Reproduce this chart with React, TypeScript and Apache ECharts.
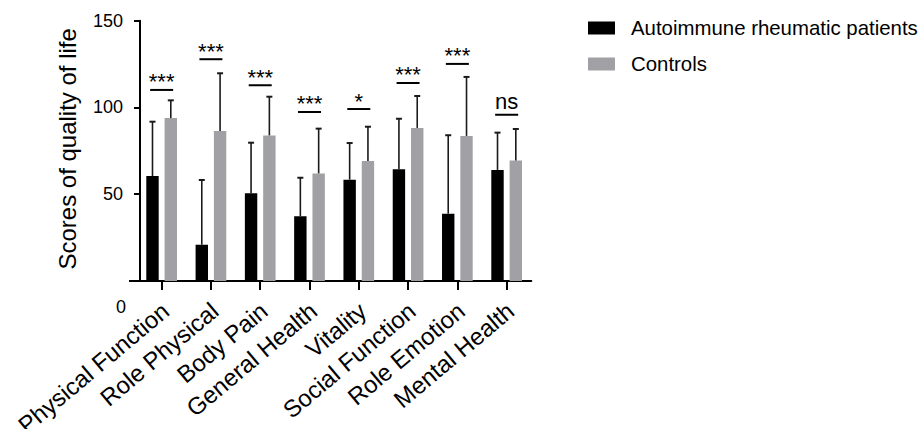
import React, { useEffect, useRef } from "react";
import * as echarts from "echarts";

const categories = [
  "Physical Function",
  "Role Physical",
  "Body Pain",
  "General Health",
  "Vitality",
  "Social Function",
  "Role Emotion",
  "Mental Health",
];
const seriesNames = ["Autoimmune rheumatic patients", "Controls"];
const patientMeans = [60.5, 20.9, 50.5, 37.3, 58.4, 64.4, 38.8, 64.0];
const patientSD = [31.3, 37.3, 29.2, 22.2, 21.1, 29.1, 45.2, 21.5];
const controlMeans = [93.9, 86.4, 83.9, 62.0, 69.2, 88.2, 83.6, 69.5];
const controlSD = [10.2, 33.3, 22.3, 25.8, 19.7, 18.4, 34.0, 18.1];
const sigLabels = ["***", "***", "***", "***", "*", "***", "***", "ns"];
const sigHeights = [110.1, 127.8, 112.8, 97.4, 99.1, 114.1, 125.1, 95.8];
const yMin = 0;
const yMax = 150;
const yInterval = 50;

const FONT = '"Liberation Sans", Arial, Helvetica, sans-serif';
const BAR_WIDTH = 12.4;
const BAR_GAP_PX = 5.9;
const BAR_OFFSET = (BAR_WIDTH + BAR_GAP_PX) / 2;

function errorSeries(means: number[], sds: number[], offset: number) {
  return {
    type: "custom",
    silent: true,
    z: 5,
    encode: { x: 0, y: [1, 2] },
    data: means.map((m, i) => [i, m, m + sds[i]]),
    renderItem: (params: any, api: any) => {
      const i = api.value(0);
      const lo = api.coord([i, api.value(1)]);
      const hi = api.coord([i, api.value(2)]);
      const x = lo[0] + offset;
      const st = { stroke: "#1a1a1a", lineWidth: 1.6 };
      return {
        type: "group",
        children: [
          { type: "line", shape: { x1: x, y1: lo[1], x2: x, y2: hi[1] }, style: st },
          { type: "line", shape: { x1: x - 3, y1: hi[1], x2: x + 3, y2: hi[1] }, style: { ...st, lineWidth: 2 } },
        ],
      };
    },
  };
}

export default function App() {
  const ref = useRef<HTMLDivElement>(null);
  useEffect(() => {
    if (!ref.current) return;
    const chart = echarts.init(ref.current, undefined, { renderer: "svg" });
    chart.setOption({
      animation: false,
      textStyle: { fontFamily: FONT },
      grid: {
        left: 137,
        right: 389.7,
        top: 20.7,
        bottom: 148,
        containLabel: false,
        outerBoundsMode: "none",
      },
      legend: {
        orient: "vertical",
        left: 588,
        top: 18,
        padding: 0,
        itemWidth: 27,
        itemHeight: 13,
        itemGap: 16,
        icon: "rect",
        data: seriesNames,
        textStyle: { fontSize: 20.4, color: "#000", fontFamily: FONT, padding: [0, 0, 0, 11] },
      },
      xAxis: {
        type: "category",
        data: categories,
        axisLine: { show: true, lineStyle: { color: "#000", width: 2 } },
        axisTick: { show: true, alignWithLabel: true, length: 9, lineStyle: { color: "#000", width: 2 } },
        axisLabel: {
          rotate: 40,
          interval: 0,
          fontSize: 24,
          color: "#000",
          margin: 14,
          padding: [0, 5, 0, 0],
          verticalAlign: "top",
          fontFamily: FONT,
        },
        splitLine: { show: false },
      },
      yAxis: {
        type: "value",
        min: yMin,
        max: yMax,
        interval: yInterval,
        offset: -3,
        name: "Scores of quality of life",
        nameLocation: "middle",
        nameRotate: 90,
        nameGap: 61,
        nameTextStyle: { fontSize: 24, color: "#000", fontFamily: FONT, padding: [0, 0, 0, 4] },
        axisLine: { show: true, lineStyle: { color: "#000", width: 2 } },
        axisTick: { show: true, length: 6, lineStyle: { color: "#000", width: 2 } },
        axisLabel: {
          fontSize: 18,
          color: "#000",
          margin: 17,
          fontFamily: FONT,
          formatter: (v: number) => (v === 0 ? "" : String(v)),
        },
        splitLine: { show: false },
      },
      series: [
        {
          name: seriesNames[0],
          type: "bar",
          data: patientMeans,
          barWidth: BAR_WIDTH,
          barGap: `${(BAR_GAP_PX / BAR_WIDTH) * 100}%`,
          itemStyle: { color: "#000000" },
        },
        {
          name: seriesNames[1],
          type: "bar",
          data: controlMeans,
          barWidth: BAR_WIDTH,
          itemStyle: { color: "#a1a1a5" },
        },
        errorSeries(patientMeans, patientSD, -BAR_OFFSET),
        errorSeries(controlMeans, controlSD, BAR_OFFSET),
        {
          type: "custom",
          silent: true,
          z: 6,
          encode: { x: 0, y: 1 },
          data: sigHeights.map((h, i) => [i, h]),
          renderItem: (params: any, api: any) => {
            const i = api.value(0);
            const p = api.coord([i, api.value(1)]);
            const label = sigLabels[params.dataIndex];
            const stars = /^\*+$/.test(label);
            const ty = p[1] - (stars ? 8 : 13);
            return {
              type: "group",
              children: [
                {
                  type: "line",
                  shape: { x1: p[0] - 11.5, y1: p[1], x2: p[0] + 11.5, y2: p[1] },
                  style: { stroke: "#000", lineWidth: 2 },
                },
                {
                  type: "text",
                  x: p[0],
                  y: ty,
                  style: {
                    text: label,
                    font: `22px ${FONT}`,
                    fill: "#000",
                    align: "center",
                    verticalAlign: "middle",
                    textAlign: "center",
                    textVerticalAlign: "middle",
                  },
                },
              ],
            };
          },
        },
      ],
      graphic: [
        {
          type: "line",
          shape: { x1: 129, y1: 281, x2: 138, y2: 281 },
          style: { stroke: "#000", lineWidth: 2 },
        },
        {
          type: "text",
          x: 121,
          y: 306.5,
          style: {
            text: "0",
            font: `18px ${FONT}`,
            fill: "#000",
            align: "center",
            verticalAlign: "middle",
            textAlign: "center",
            textVerticalAlign: "middle",
          },
        },
      ],
    });
    return () => chart.dispose();
  }, []);
  return (
    <div
      ref={ref}
      style={{ position: "absolute", left: 0, top: 0, width: 921, height: 429, background: "#fff" }}
    />
  );
}
